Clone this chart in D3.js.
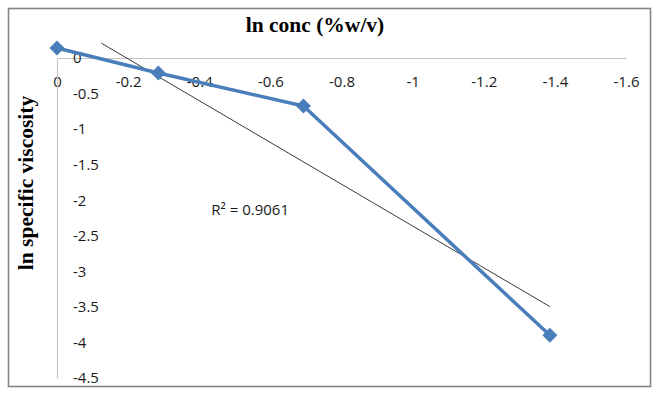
<!DOCTYPE html>
<html>
<head>
<meta charset="utf-8">
<script src="https://cdn.jsdelivr.net/npm/d3@7"></script>
<style>
  body { margin: 0; background: #fff; }
  svg { display: block; }
</style>
</head>
<body>
<script>
// Data
const lnConc = [0, -0.285, -0.693, -1.386];
const lnViscosity = [0.14, -0.21, -0.675, -3.9];
const xTicks = [0, -0.2, -0.4, -0.6, -0.8, -1, -1.2, -1.4, -1.6];
const yTicks = [0, -0.5, -1, -1.5, -2, -2.5, -3, -3.5, -4, -4.5];
const trendRange = [-0.125, -1.386];
const r2Text = 'R² = 0.9061';
const r2At = [-0.434, -2.21];

const width = 656;
const height = 396;

const data = lnConc.map((x, i) => ({ x: x, y: lnViscosity[i] }));

const x = d3.scaleLinear().domain([0, -1.6]).range([57, 626]);
const y = d3.scaleLinear().domain([0, -4.5]).range([58, 378]);

// least squares fit for the trendline
const mx = d3.mean(data, (d) => d.x);
const my = d3.mean(data, (d) => d.y);
const sxy = d3.sum(data, (d) => (d.x - mx) * (d.y - my));
const sxx = d3.sum(data, (d) => (d.x - mx) * (d.x - mx));
const slope = sxy / sxx;
const intercept = my - slope * mx;
const trend = trendRange.map((v) => ({ x: v, y: intercept + slope * v }));

const svg = d3
	.select('body')
	.append('svg')
	.attr('width', width)
	.attr('height', height);

svg
	.append('rect')
	.attr('x', 8.5)
	.attr('y', 8.5)
	.attr('width', 642)
	.attr('height', 378)
	.attr('fill', '#fff')
	.attr('stroke', '#858585')
	.attr('stroke-width', 1.6);

const tickFont = (g) =>
	g
		.attr('font-family', '"Open Sans", sans-serif')
		.attr('font-size', 15)
		.call((g) => g.selectAll('text').attr('fill', '#1a1a1a'))
		.call((g) => g.select('.domain').attr('stroke', '#c4c4c4').attr('stroke-width', 1.2));

svg
	.append('g')
	.attr('transform', `translate(0,${y(0)})`)
	.call(
		d3.axisBottom(x)
			.tickValues(xTicks)
			.tickFormat((d) => String(d))
			.tickSize(0)
			.tickSizeOuter(0)
			.tickPadding(18)
	)
	.call(tickFont);

svg
	.append('g')
	.attr('transform', `translate(${x(0)},0)`)
	.call(
		d3.axisRight(y)
			.tickValues(yTicks)
			.tickFormat((d) => String(d))
			.tickSize(0)
			.tickSizeOuter(0)
			.tickPadding(16)
	)
	.call(tickFont);

// axis titles
svg
	.append('text')
	.attr('x', 315)
	.attr('y', 32)
	.attr('text-anchor', 'middle')
	.attr('font-family', '"Liberation Serif", serif')
	.attr('font-weight', 'bold')
	.attr('font-size', 21.5)
	.text('ln conc (%w/v)');

svg
	.append('text')
	.attr('transform', 'translate(33,183) rotate(-90)')
	.attr('text-anchor', 'middle')
	.attr('font-family', '"Liberation Serif", serif')
	.attr('font-weight', 'bold')
	.attr('font-size', 21.5)
	.text('ln specific viscosity');

// trendline
svg
	.append('path')
	.datum(trend)
	.attr('fill', 'none')
	.attr('stroke', '#222')
	.attr('stroke-width', 0.9)
	.attr('d', d3.line().x((d) => x(d.x)).y((d) => y(d.y)));

// series
svg
	.append('path')
	.datum(data)
	.attr('fill', 'none')
	.attr('stroke', '#4a7ebb')
	.attr('stroke-width', 3.5)
	.attr('stroke-linejoin', 'round')
	.attr('d', d3.line().x((d) => x(d.x)).y((d) => y(d.y)));

svg
	.append('g')
	.attr('fill', '#4a7ebb')
	.selectAll('path')
	.data(data)
	.join('path')
	.attr('d', d3.symbol(d3.symbolSquare, 112))
	.attr('transform', (d) => `translate(${x(d.x)},${y(d.y)}) rotate(45)`);

svg
	.append('text')
	.attr('x', x(r2At[0]))
	.attr('y', y(r2At[1]))
	.attr('font-family', '"Open Sans", sans-serif')
	.attr('font-size', 15)
	.attr('fill', '#1a1a1a')
	.text(r2Text);
</script>
</body>
</html>
